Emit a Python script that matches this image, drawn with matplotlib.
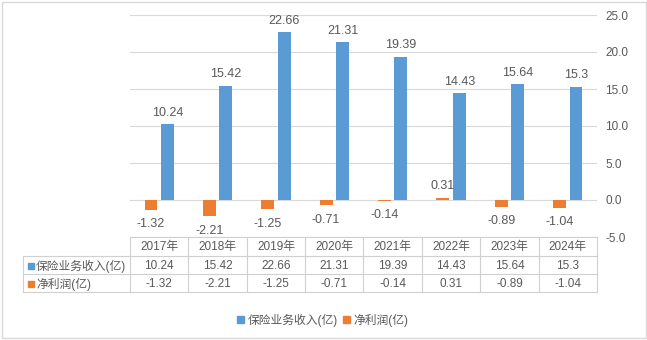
# insurance income vs net profit, column chart with data table below

import matplotlib
matplotlib.use('Agg')
import matplotlib.pyplot as plt
import matplotlib.transforms as mtransforms
from matplotlib.patches import Rectangle, Patch
import numpy as np

plt.rcParams['font.family'] = ['Liberation Sans', 'Noto Sans CJK SC', 'DejaVu Sans']

years = ['2017年', '2018年', '2019年', '2020年', '2021年', '2022年', '2023年', '2024年']
income = [10.24, 15.42, 22.66, 21.31, 19.39, 14.43, 15.64, 15.3]
profit = [-1.32, -2.21, -1.25, -0.71, -0.14, 0.31, -0.89, -1.04]
income_name = '保险业务收入(亿)'
profit_name = '净利润(亿)'
yticks = [-5, 0, 5, 10, 15, 20, 25]

blue = '#5B9BD5'
orange = '#ED7D31'
txt = '#595959'
grid = '#D9D9D9'
line = '#D0D0D0'

W, H = 647, 340
fig = plt.figure(figsize=(W / 100, H / 100), dpi=100)


def fx(px):
    return px / W


def fy(py):
    return 1 - py / H


# plot area
ax = fig.add_axes([fx(130), fy(237), fx(597) - fx(130), (237 - 15) / H])
x = np.arange(len(years))
ax.bar(x - 0.14, profit, 0.22, color=orange, zorder=3)
ax.bar(x + 0.14, income, 0.22, color=blue, zorder=3)
ax.set_xlim(-0.5, len(years) - 0.5)
ax.set_ylim(yticks[0], yticks[-1])
ax.set_yticks(yticks)
ax.set_yticklabels(['%.1f' % v for v in yticks])
ax.yaxis.tick_right()
ax.tick_params(axis='y', length=0, pad=6, labelsize=8.5, labelcolor=txt)
ax.set_xticks([])
for s in ax.spines.values():
    s.set_visible(False)
ax.grid(axis='y', color=grid, lw=0.8, zorder=0)
ax.set_axisbelow(True)

# data labels
for i, v in enumerate(income):
    ax.annotate(str(v), (x[i] + 0.14, v), xytext=(0, 4), textcoords='offset points',
                ha='center', va='bottom', fontsize=9, color=txt)
for i, v in enumerate(profit):
    if v > 0:
        ax.annotate(str(v), (x[i] - 0.14, v), xytext=(0, 4), textcoords='offset points',
                    ha='center', va='bottom', fontsize=9, color=txt)
    else:
        ax.annotate(str(v), (x[i] - 0.14, v), xytext=(0, -6), textcoords='offset points',
                    ha='center', va='top', fontsize=9, color=txt)

# data table
tr = mtransforms.blended_transform_factory(ax.transData, fig.transFigure)
ftr = fig.transFigure
lw = 0.8
fig.add_artist(plt.Line2D([fx(130), fx(597)], [fy(237), fy(237)], transform=ftr, color=line, lw=lw))
for yy in [256, 274, 292]:
    fig.add_artist(plt.Line2D([fx(23), fx(597)], [fy(yy), fy(yy)], transform=ftr, color=line, lw=lw))
fig.add_artist(plt.Line2D([fx(23), fx(23)], [fy(256), fy(292)], transform=ftr, color=line, lw=lw))
for b in np.arange(len(years) + 1) - 0.5:
    fig.add_artist(plt.Line2D([b, b], [fy(237), fy(292)], transform=tr, color=line, lw=lw))

for i in range(len(years)):
    fig.text(x[i], fy(247), years[i], transform=tr, ha='center', va='center', fontsize=8.5, color=txt)
    fig.text(x[i], fy(266), str(income[i]), transform=tr, ha='center', va='center', fontsize=8.5, color=txt)
    fig.text(x[i], fy(284), str(profit[i]), transform=tr, ha='center', va='center', fontsize=8.5, color=txt)

fig.add_artist(Rectangle((fx(28), fy(269)), fx(6), 6 / H, transform=ftr, color=blue))
fig.add_artist(Rectangle((fx(28), fy(287)), fx(6), 6 / H, transform=ftr, color=orange))
fig.text(fx(36), fy(266), income_name, ha='left', va='center', fontsize=8.5, color=txt)
fig.text(fx(36), fy(284), profit_name, ha='left', va='center', fontsize=8.5, color=txt)

# legend
handles = [Patch(color=blue), Patch(color=orange)]
fig.legend(handles, [income_name, profit_name], loc='center', bbox_to_anchor=(fx(323), fy(320)),
           ncol=2, frameon=False, fontsize=8.5, labelcolor=txt, handlelength=0.6, handleheight=0.6,
           handletextpad=0.3, columnspacing=0.4)

# chart border
fig.add_artist(Rectangle((fx(1.5), fy(338)), fx(644), 336 / H, transform=ftr, fill=False,
                         edgecolor=grid, lw=1))

fig.savefig('out.png', dpi=100)
